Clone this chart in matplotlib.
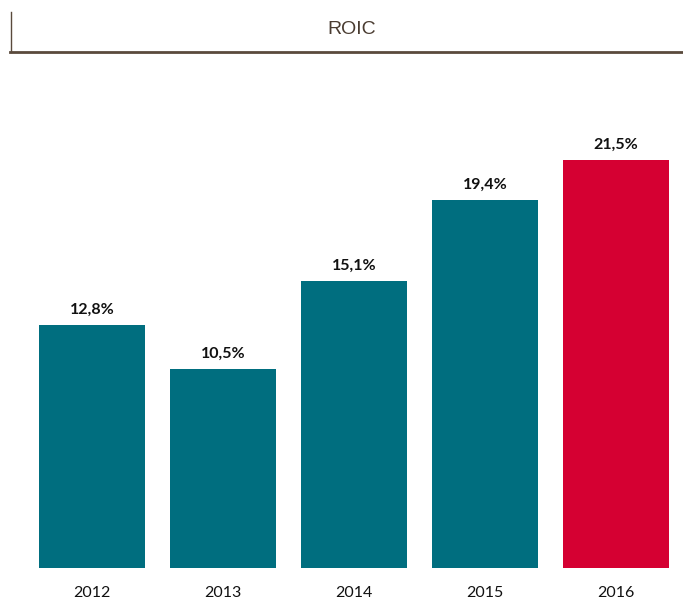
import numpy as np
import matplotlib.pyplot as plt
from matplotlib.lines import Line2D

# Datos
years = ["2012", "2013", "2014", "2015", "2016"]
roic = [12.8, 10.5, 15.1, 19.4, 21.5]
labels = ["12,8%", "10,5%", "15,1%", "19,4%", "21,5%"]
colors = ["#006E7F", "#006E7F", "#006E7F", "#006E7F", "#D50032"]

W, H = 683, 599
fig = plt.figure(figsize=(W / 100, H / 100), dpi=100)

# Ejes en coordenadas de píxel
left, right, top, bottom = 26.5, 681.5, 100, 568
ax = fig.add_axes([left / W, 1 - bottom / H, (right - left) / W, (bottom - top) / H])

x = np.arange(len(years))
ax.bar(x, roic, width=0.81, color=colors)
ax.set_xlim(-0.5, len(years) - 0.5)
ax.set_ylim(0, 24.66)

for xi, v, lab in zip(x, roic, labels):
    ax.annotate(lab, (xi, v), xytext=(0, 6), textcoords="offset points",
                ha="center", va="bottom", fontsize=11.5, fontweight="bold",
                family="Lato", color="#111111")

ax.set_xticks(x)
ax.set_xticklabels(years, family="Lato", fontsize=11.5, color="#111111")
ax.tick_params(axis="x", length=0, pad=13)
ax.set_yticks([])
for s in ax.spines.values():
    s.set_visible(False)

# Título con línea inferior
fig.text(352 / W, 1 - 30 / H, "ROIC", ha="center", va="center",
         fontsize=14, family="Liberation Sans", color="#4a3c31")
fig.add_artist(Line2D([10 / W, 1], [1 - 52 / H, 1 - 52 / H], color="#5a4a3c", lw=2))
fig.add_artist(Line2D([11 / W, 11 / W], [1 - 12 / H, 1 - 52 / H], color="#5a4a3c", lw=1))

fig.savefig("out.png", dpi=100)
